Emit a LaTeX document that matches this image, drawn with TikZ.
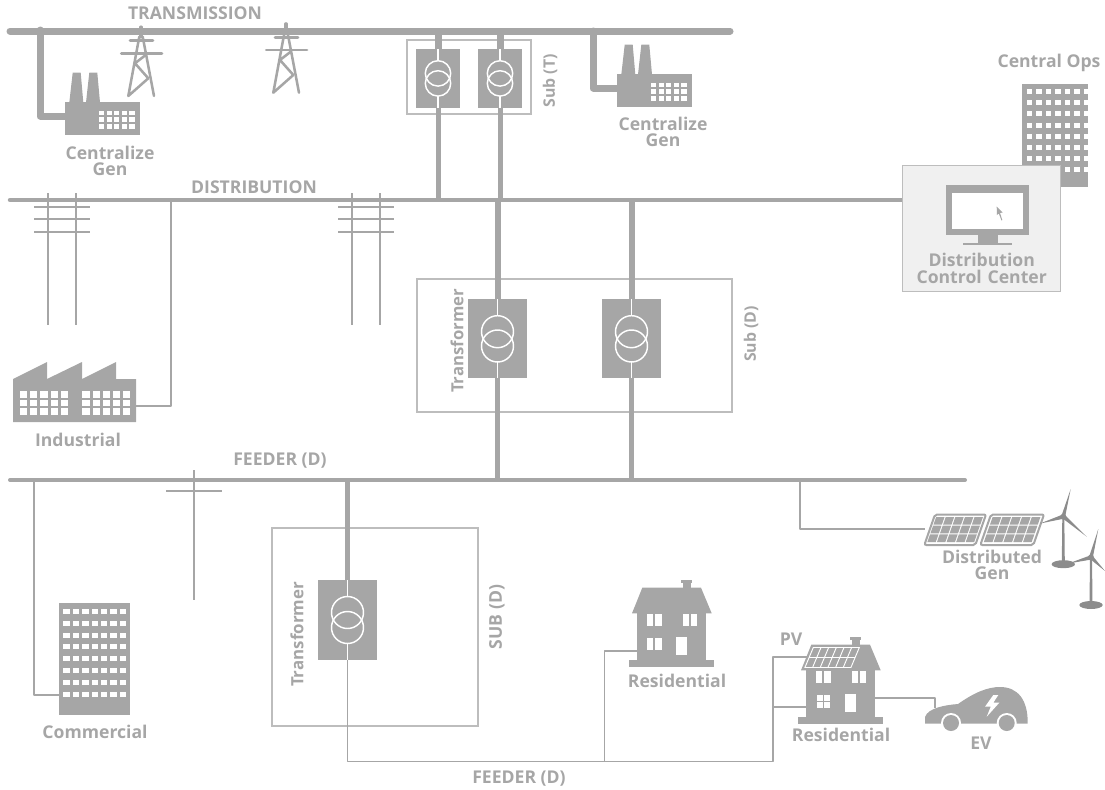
\documentclass[tikz,border=0pt]{standalone}
\usepackage{fontspec}
\setmainfont{Open Sans}[BoldFont={Open Sans Bold}]
\usetikzlibrary{calc}
\definecolor{gr}{HTML}{A6A6A6}
\definecolor{grb}{HTML}{BDBDBD}
\definecolor{grd}{HTML}{8C8C8C}
\tikzset{
  lbl/.style={text=gr,font=\fontsize{13.2pt}{12pt}\selectfont\bfseries,inner sep=0pt,align=center},
  bus/.style={draw=gr,line width=#1*0.75pt,line cap=round,line join=round},
  feed/.style={draw=gr,line width=#1*0.75pt,line join=round},
  frame/.style={draw=grb,line width=0.9pt,fill=none},
  xbox/.style={fill=gr,inner sep=0pt,outer sep=0pt},
  white line/.style={draw=white,line width=1.1pt}
}
% window grid: x y w h px py cols rows
\newcommand{\wingrid}[8]{\foreach \i in {1,...,#7}{\foreach \j in {1,...,#8}{\fill[white] ({#1+(\i-1)*#5},{#2+(\j-1)*#6}) rectangle ++(#3,#4);}}}
% transformer: name cx ytop ybot halfwidth r c1 c2
\newcommand{\xfmr}[8]{%
  \node[xbox,minimum width=#5*1.5pt,minimum height={(#4-#3)*0.75pt}] (#1) at (#2,{(#3+#4)/2}) {};
  \draw[white line] (#2,#3) -- (#2,{#7-#6});
  \draw[white line] (#2,{#8+#6}) -- (#2,#4);
  \draw[white line] (#2,#7) circle (#6);
  \draw[white line] (#2,#8) circle (#6);
}
\newcommand{\factoryg}[2]{\begin{scope}[shift={(#1,#2)}]
  \fill[gr] (0,0) rectangle (75,33);
  \fill[gr] (4.3,0.5) -- (7.7,-29.3) -- (15.7,-29.3) -- (18.3,0.5) -- cycle;
  \fill[gr] (21,0.5) -- (24.3,-29.3) -- (32.3,-29.3) -- (35,0.5) -- cycle;
  \wingrid{34}{8.7}{5.2}{4.6}{7.6}{6.6}{5}{3}
\end{scope}}
\newcommand{\towerg}[2]{\begin{scope}[shift={(#1,#2)}]
  \draw[gr,line width=2.3pt,line cap=round] (0,0) -- (0,10);
  \draw[gr,line width=2.2pt,line cap=round] (-11,13.7) -- (12,13.7);
  \draw[gr,line width=2.2pt,line cap=round] (-19.7,26.3) -- (21,26.3);
  \draw[gr,line width=1.9pt,line cap=round,line join=round] (-1.7,9.7) -- (-12.7,69) -- (7.3,51.3) -- (-6,36.3) -- (4.7,28);
  \draw[gr,line width=1.9pt,line cap=round] (1.7,9.7) -- (13,69);
\end{scope}}
\newcommand{\poleg}[2]{%
  \draw[gr,line width=2.1pt] (#1+14,#2-7) -- (#1+14,#2+125);
  \draw[gr,line width=2.1pt] (#1+42,#2-7) -- (#1+42,#2+125);
  \foreach \yy in {7,19,32}{\draw[gr,line width=1.5pt] (#1,#2+\yy) -- (#1+56,#2+\yy);}
}
\newcommand{\houseg}[2]{\begin{scope}[shift={(#1,#2)}]
  \fill[gr] (629,660) rectangle (714,667);
  \fill[gr] (636.7,612) rectangle (706,660.5);
  \fill[gr] (632,613.3) -- (642.3,587.7) -- (701,587.7) -- (711.7,613.3) -- cycle;
  \fill[gr] (682.7,582) rectangle (690.7,588);
  \fill[gr] (681.3,580) rectangle (692,582.5);
  \wingrid{646.7}{613.7}{6.6}{12.3}{8.4}{1}{2}{1}
  \wingrid{683}{613.7}{6.2}{12.3}{8}{1}{2}{1}
  \fill[white] (676,637) rectangle (687,654.7);
\end{scope}}
\newcommand{\turb}[8]{%
  \fill[grd] (#1-1,#2) -- (#1+1,#2) -- (#1+1.5,#2+46) -- (#1-1.5,#2+46) -- cycle;
  \fill[grd] (#1,#2+47.5) ellipse (11.7 and 4);
  \fill[grd] (#1-1.8,#2-1) -- (#3,#4) -- (#1+1.8,#2) -- cycle;
  \fill[grd] (#1-1,#2-2) -- (#5,#6) -- (#1+.5,#2+2) -- cycle;
  \fill[grd] (#1+1.6,#2-1.6) -- (#7,#8) -- (#1-.8,#2+1.6) -- cycle;
  \fill[grd] (#1,#2) circle (3);
}
\begin{document}
\begin{tikzpicture}[x=0.75pt,y=-0.75pt]
\useasboundingbox (0,0) rectangle (1105,789);
% anchors
\coordinate (tL) at (10,31); \coordinate (tR) at (730,31);
\coordinate (dL) at (10,200); \coordinate (dR) at (903,200);
\coordinate (fL) at (10,480); \coordinate (fR) at (965,480);
% frames
\node[frame,minimum width=124*0.75pt,minimum height=74*0.75pt,inner sep=0] (subT) at (469,77) {};
\node[frame,minimum width=315*0.75pt,minimum height=133*0.75pt,inner sep=0] (subD) at (574.5,345.5) {};
\node[frame,minimum width=206*0.75pt,minimum height=198*0.75pt,inner sep=0] (subL) at (375,627) {};
% transformers
\xfmr{x1}{438}{49}{108}{22}{12.7}{73.4}{83.4}
\xfmr{x2}{500}{49}{108}{22}{12.7}{73.4}{83.4}
\xfmr{x3}{497.5}{299}{378}{29.5}{16}{331.7}{346}
\xfmr{x4}{631.5}{299}{378}{29.5}{16}{331.7}{346}
\xfmr{x5}{347.5}{580}{660}{29.5}{16}{612.5}{627.5}
% buses
\draw[bus=7] (tL) -- (tR);
\draw[bus=4.5] (dL) -- (dR);
\draw[bus=4] (fL) -- (fR);
% connectors
\draw[feed=7] (x1.north) -- (x1.north |- tL);
\draw[feed=7] (x2.north) -- (x2.north |- tL);
\draw[feed=5] (x1.south) -- (x1.south |- dL);
\draw[feed=5] (x2.south) -- (x2.south |- dL);
\draw[feed=6] (x3.north) -- (x3.north |- dL);
\draw[feed=6] (x4.north) -- (x4.north |- dL);
\draw[feed=5] (x3.south) -- (x3.south |- fL);
\draw[feed=5] (x4.south) -- (x4.south |- fL);
\draw[feed=4.5] (x5.north) -- (x5.north |- fL);
% generators
\coordinate (g1) at (66,116); \coordinate (g2) at (618,88);
\draw[bus=7] (40,30) |- (g1);
\draw[bus=7] (593,31) |- (g2);
\factoryg{65}{102}
\factoryg{617}{74}
\towerg{141}{27}
\towerg{286}{23.7}
\poleg{34}{200}
\poleg{338}{200}
% industrial
\coordinate (ind) at (136,406);
\draw[feed=2.5] (171,200) |- (ind);
\fill[gr] (13,379) -- (47,362) -- (47,379) -- (82,362) -- (82,379) -- (116,362) -- (116,379) -- (136,379) -- (136,422) -- (13,422) -- cycle;
\wingrid{20}{391}{7.2}{6.6}{10.2}{8.6}{5}{3}
\wingrid{82.3}{391}{7.2}{6.6}{10.2}{8.6}{5}{3}
% feeder pole
\draw[gr,line width=2pt] (194,470) -- (194,600);
\draw[gr,line width=1.5pt] (166,491) -- (222,491);
% commercial
\coordinate (com) at (60,695);
\draw[feed=2.5] (34,480) |- (com);
\fill[gr] (59,603) rectangle (130,715);
\wingrid{63.3}{609}{6.5}{5}{9.4}{11.8}{7}{8}
% central ops
\fill[gr] (1022,84) rectangle (1088,187);
\wingrid{1026.7}{89}{5.5}{5}{9.5}{11.2}{7}{8}
\node[draw=grb,fill=black!6,line width=1.1pt,minimum width=158*0.75pt,minimum height=125.5*0.75pt,inner sep=0] (ctrl) at (981.7,228.5) {};
\fill[gr] (946,185) rectangle (1028.7,235);
\fill[white] (951.7,192.7) rectangle (1023.3,229.3);
\fill[gr] (977.7,235) rectangle (997.7,243);
\fill[gr] (963.3,242.7) rectangle (1012,245);
\fill[gr] (996.7,206.7) -- (996.9,215) -- (998.8,213.5) -- (1001.5,220.5) -- (1002.3,220) -- (1000,213) -- (1002.5,212.5) -- cycle;
% lower feeder
\coordinate (h1) at (637,651); \coordinate (h2a) at (808,657); \coordinate (h2b) at (806,707);
\draw[feed=1.8] (x5.south) |- (773,761.5) |- (h2a);
\draw[feed=1.8] (773,707) -- (h2b);
\draw[feed=1.8] (604.5,761.5) |- (h1);
% houses
\houseg{0}{0}
\wingrid{646.7}{637.7}{6.6}{12.3}{8.4}{1}{2}{1}
\houseg{169}{57}
\wingrid{816.7}{695}{6.2}{6}{7}{6.8}{2}{2}
% PV on roof
\begin{scope}[shift={(813.3,647.5)},xslant=.42]
  \draw[white,line width=.7pt] (0,0) rectangle (46,20);
  \draw[white,line width=.7pt] (0,10) -- (46,10);
  \foreach \k in {1,...,5}{\draw[white,line width=.7pt] ({\k*46/6},0) -- ({\k*46/6},20);}
\end{scope}
% EV
\coordinate (ev) at (935,708);
\draw[feed=1.8] (875,698) -| (ev);
\fill[gr] (925,723.5) -- (925,717) .. controls (928,708) and (945,705) .. (958,704) .. controls (975,692) and (988,687) .. (1000,687) .. controls (1018,687) and (1028,700) .. (1027.7,723.5) -- cycle;
\fill[white] (951,723) circle (10) (1006.7,723) circle (10);
\fill[white] (925,724) rectangle (1028,735);
\fill[gr] (951,723) circle (8) (1006.7,723) circle (8);
\fill[white] (993.3,695) -- (985,706.7) -- (990.7,706.7) -- (986.7,716.7) -- (999.3,702.7) -- (993.3,702.7) -- (998.3,695) -- cycle;
% DG
\coordinate (pv) at (925,529);
\draw[feed=2.5] (800,480) |- (pv);
\begin{scope}[shift={(935,514.5)},xslant=.35]
  \draw[gr,fill=white,line width=1.5pt,rounded corners=1.5pt] (0,0) rectangle (51,30.5);
  \foreach \i in {0,...,4}{\foreach \j in {0,...,2}{\fill[gr] ({2+\i*9.6},{2.5+\j*8.7}) rectangle ++(8.4,7.6);}}
\end{scope}
\begin{scope}[shift={(991,514.5)},xslant=.35]
  \draw[gr,fill=white,line width=1.5pt,rounded corners=1.5pt] (0,0) rectangle (53,30.5);
  \foreach \i in {0,...,4}{\foreach \j in {0,...,2}{\fill[gr] ({2.5+\i*9.8},{2.5+\j*8.7}) rectangle ++(8.6,7.6);}}
\end{scope}
% turbines
\turb{1063.3}{516.7}{1070.7}{489}{1040}{523.5}{1086.7}{536.7}
\turb{1091}{557.5}{1098.3}{529}{1068.3}{563.5}{1105}{571}
% labels
\node[lbl] (lT) at (195,13) {TRANSMISSION};
\node[lbl] (lDi) at (254,187) {DISTRIBUTION};
\node[lbl] (lFe) at (280,461) {FEEDER (D)};
\node[lbl] (lFe2) at (519,779) {FEEDER (D)};
\node[lbl,text width=100pt] (lG1) at (110,161) {Centralize\\[.5pt]Gen};
\node[lbl,text width=100pt] (lG2) at (663,132) {Centralize\\[.5pt]Gen};
\node[lbl,rotate=90,scale=.9] (lST) at (550,81) {Sub (T)};
\node[lbl,rotate=90,scale=.95] (lT1) at (457,341) {Transformer};
\node[lbl,rotate=90,scale=.9] (lSD) at (751,334) {Sub (D)};
\node[lbl,rotate=90,scale=.96] (lT2) at (297,634.5) {Transformer};
\node[lbl,rotate=90] (lSD2) at (497,617) {SUB (D)};
\node[lbl] (lI) at (78,440) {Industrial};
\node[lbl] (lC) at (95,732) {Commercial};
\node[lbl] (lR1) at (677,681) {Residential};
\node[lbl] (lR2) at (841,735) {Residential};
\node[lbl] (lEV) at (981,743) {EV};
\node[lbl] (lPV) at (791,639) {PV};
\node[lbl,text width=100pt] (lDG) at (992,565) {Distributed\\[.5pt]Gen};
\node[lbl] (lCO) at (1049,63) {Central Ops};
\node[lbl,text width=120pt] (lCC) at (981.7,268.5) {Distribution\\[.5pt]Control Center};
\end{tikzpicture}
\end{document}
